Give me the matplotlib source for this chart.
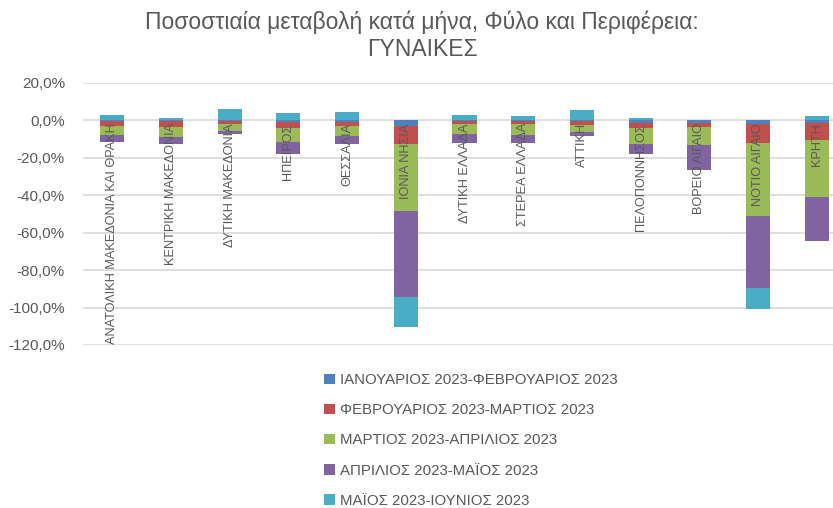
import numpy as np
import matplotlib
matplotlib.use("Agg")
import matplotlib.pyplot as plt
from matplotlib.patches import Patch

plt.rcParams['font.family'] = ['Liberation Sans', 'DejaVu Sans']

regions = ["ΑΝΑΤΟΛΙΚΗ ΜΑΚΕΔΟΝΙΑ ΚΑΙ ΘΡΑΚΗ", "ΚΕΝΤΡΙΚΗ ΜΑΚΕΔΟΝΙΑ", "ΔΥΤΙΚΗ ΜΑΚΕΔΟΝΙΑ",
           "ΗΠΕΙΡΟΣ", "ΘΕΣΣΑΛΙΑ", "ΙΟΝΙΑ ΝΗΣΙΑ", "ΔΥΤΙΚΗ ΕΛΛΑΔΑ", "ΣΤΕΡΕΑ ΕΛΛΑΔΑ",
           "ΑΤΤΙΚΗ", "ΠΕΛΟΠΟΝΝΗΣΟΣ", "ΒΟΡΕΙΟ ΑΙΓΑΙΟ", "ΝΟΤΙΟ ΑΙΓΑΙΟ", "ΚΡΗΤΗ"]

jan_feb = [-0.2, -0.2, -0.5, -1.1, -0.7, -3.2, -0.5, -0.4, -0.4, -1.2, -1.2, -2.1, -1.4]
feb_mar = [-3.0, -3.2, -1.6, -2.9, -2.1, -9.6, -1.5, -1.6, -1.9, -3.0, -2.3, -9.9, -8.9]
mar_apr = [-4.7, -5.4, -3.7, -7.5, -5.6, -35.5, -5.3, -5.7, -3.9, -8.6, -9.8, -39.3, -30.5]
apr_may = [-3.4, -4.0, -1.6, -6.4, -4.1, -46.3, -4.8, -4.1, -2.3, -5.0, -13.0, -38.3, -23.5]
may_jun = [2.9, 1.5, 6.1, 4.1, 4.6, -15.7, 2.9, 2.3, 5.5, 1.1, 0.0, -11.4, 2.6]

series = [jan_feb, feb_mar, mar_apr, apr_may, may_jun]
names = ["ΙΑΝΟΥΑΡΙΟΣ 2023-ΦΕΒΡΟΥΑΡΙΟΣ 2023", "ΦΕΒΡΟΥΑΡΙΟΣ 2023-ΜΑΡΤΙΟΣ 2023",
         "ΜΑΡΤΙΟΣ 2023-ΑΠΡΙΛΙΟΣ 2023", "ΑΠΡΙΛΙΟΣ 2023-ΜΑΪΟΣ 2023", "ΜΑΪΟΣ 2023-ΙΟΥΝΙΟΣ 2023"]
colors = ["#4F81BD", "#C0504D", "#9BBB59", "#8064A2", "#4BACC6"]

txt = "#595959"
W, H = 833, 508
fig = plt.figure(figsize=(W / 100, H / 100), dpi=100)
# plot area runs past the right edge, as in the cropped original
ax = fig.add_axes([83 / W, 1 - 345 / H, 763 / W, 262 / H])

x = np.arange(len(regions))
pos = np.zeros(len(regions))
neg = np.zeros(len(regions))
for vals, c in zip(series, colors):
    v = np.array(vals)
    bottom = np.where(v >= 0, pos, neg)
    ax.bar(x, v, 0.41, bottom=bottom, color=c, zorder=3)
    pos += np.where(v >= 0, v, 0)
    neg += np.where(v < 0, v, 0)

ax.set_ylim(-120, 20)
ax.set_xlim(-0.5, len(regions) - 0.5)
ax.set_yticks(np.arange(-120, 21, 20))
ax.set_yticklabels([f"{t:.1f}%".replace(".", ",") for t in np.arange(-120, 21, 20)],
                   color=txt, fontsize=11)
ax.tick_params(axis='y', length=0, pad=13)
ax.set_xticks([])
ax.grid(axis='y', color="#D9D9D9", linewidth=1.2, zorder=0)
for s in ax.spines.values():
    s.set_visible(False)

for i, name in enumerate(regions):
    ax.text(i, -1.5, name, rotation=90, ha='right', va='center', rotation_mode='anchor',
            color=txt, fontsize=9.2, zorder=4)

fig.text(0.507, 1 - 22 / H, "Ποσοστιαία μεταβολή κατά μήνα, Φύλο και Περιφέρεια:",
         ha='center', va='center', fontsize=16.5, color=txt)
fig.text(0.507, 1 - 50 / H, "ΓΥΝΑΙΚΕΣ", ha='center', va='center', fontsize=16.5, color=txt)

handles = [Patch(facecolor=c, label=n) for c, n in zip(colors, names)]
fig.legend(handles=handles, loc='upper left', bbox_to_anchor=(318 / W, 1 - 367 / H),
           frameon=False, fontsize=10.8, labelcolor=txt, handlelength=0.7, handleheight=0.7,
           handletextpad=0.4, labelspacing=1.08, borderaxespad=0)

fig.savefig("out.png", dpi=100)
